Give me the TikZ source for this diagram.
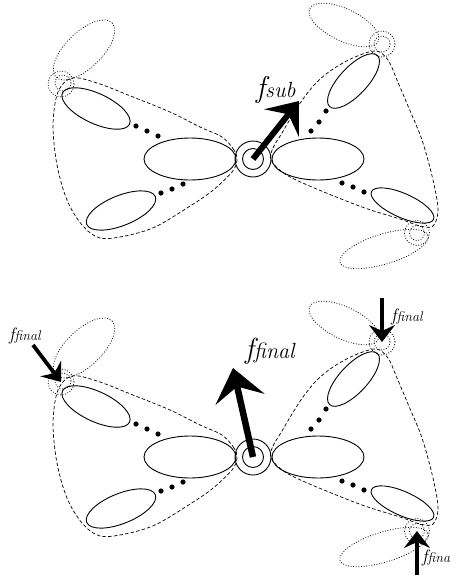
\documentclass[tikz,border=0pt]{standalone}
\usetikzlibrary{arrows.meta}
\tikzset{
  solidell/.style={line width=0.9pt},
  dashloop/.style={line width=0.7pt, dash pattern=on 3.5pt off 2.2pt},
  dotline/.style={line width=0.75pt, dash pattern=on 0.9pt off 1.7pt},
  ring/.style={draw, circle, inner sep=0pt, line width=0.9pt},
  dotring/.style={draw, circle, inner sep=0pt, dotline},
  bigarrow/.style={line width=6pt, -{Stealth[length=28pt,width=44pt,inset=11pt]}},
  hugearrow/.style={line width=6.5pt, -{Stealth[length=32pt,width=50pt,inset=13pt]}},
  smallarrow/.style={line width=3.8pt, -{Stealth[length=17pt,width=26pt,inset=6pt]}},
  lbl/.style={anchor=base west, inner sep=0pt, font=\itshape},
}
\newcommand\myell[6][]{\draw[#1, rotate around={#6:(#2,#3)}] (#2,#3) ellipse [x radius=#4, y radius=#5];}
\newcommand\butterflybody{%
  \myell[solidell]{190}{159}{46}{21}{0}
  \myell[solidell]{318}{159}{46}{21}{0}
  \myell[solidell]{96}{108.5}{37}{15}{-25}
  \myell[solidell]{121}{210.5}{37}{15}{22}
  \myell[solidell]{353.5}{81}{35}{14}{47}
  \myell[solidell]{402.5}{205.5}{34}{12}{-24}
  \foreach \p in {(136,126),(147,131),(158,136),(161,193),(172,189),(183,184),(311,131),(319,122),(326,111),(342,183),(353,187),(364,192)} \fill \p circle (2.6);
  \node[ring, minimum size=36pt] (co) at (253,159) {};
  \node[ring, minimum size=21pt] (ci) at (253,159) {};
  \draw[dashloop] plot[smooth cycle, tension=0.55] coordinates {(237,160) (234,150) (222,137) (200,127) (170,112) (133,97) (97,83) (72,78) (58,92) (53,125) (57,165) (67,200) (82,225) (100,238) (125,236) (155,227) (187,208) (212,191) (232,172)};
  \draw[dashloop] plot[smooth cycle, tension=0.55] coordinates {(271,160) (273,148) (282,133) (292,116) (303,99) (316,83) (333,69) (355,57) (376,51) (388,60) (397,80) (408,106) (422,140) (433,180) (438,210) (433,226) (420,226) (400,219) (362,207) (312,187) (285,174)};
  \node[dotring, minimum size=26pt] (sl) at (61,84) {};
  \node[dotring, minimum size=16pt] (sli) at (63,83) {};
  \node[dotring, minimum size=26pt] (srt) at (382,44) {};
  \node[dotring, minimum size=16pt] (srti) at (382,44) {};
  \node[dotring, minimum size=25pt] (srb) at (417,233) {};
  \node[dotring, minimum size=15pt] (srbi) at (417,233) {};
  \myell[dotline]{84}{50}{39}{18}{44}
  \myell[dotline]{344}{25}{38}{16}{-25.5}
  \myell[dotline]{384}{249}{46}{15}{17}
}
\begin{document}
\begin{tikzpicture}[x=1pt,y=-1pt]
\useasboundingbox (0,0) rectangle (459,579);
\begin{scope}[name prefix=t-]
  \butterflybody
  \coordinate (tip) at (299,101);
  \draw[bigarrow] (co.center) -- (tip);
  \node[lbl] (lab) at (256,97) {\fontsize{30}{30}\selectfont f\fontsize{22}{22}\selectfont sub};
\end{scope}
\begin{scope}[name prefix=b-, yshift=-298pt]
  \butterflybody
  \coordinate (tip) at (233,70);
  \draw[hugearrow] (co.center) -- (tip);
  \node[lbl] (lab) at (245,60) {\fontsize{29}{29}\selectfont f\fontsize{22}{22}\selectfont final};
  \coordinate (tl) at (33,47);
  \draw[smallarrow] (tl) -- (sl.center);
  \node[lbl] (labl) at (9,42) {\fontsize{18}{18}\selectfont f\fontsize{14}{14}\selectfont final};
  \coordinate (trt) at (382,0);
  \draw[smallarrow] (trt) -- (srt.center);
  \node[lbl] (labrt) at (391,23) {\fontsize{18}{18}\selectfont f\fontsize{14}{14}\selectfont final};
  \coordinate (trb) at (417,277);
  \draw[smallarrow] (trb) -- (srb.center);
  \node[lbl] (labrb) at (422,264) {\fontsize{18}{18}\selectfont f\fontsize{14}{14}\selectfont fina};
\end{scope}
\end{tikzpicture}
\end{document}
